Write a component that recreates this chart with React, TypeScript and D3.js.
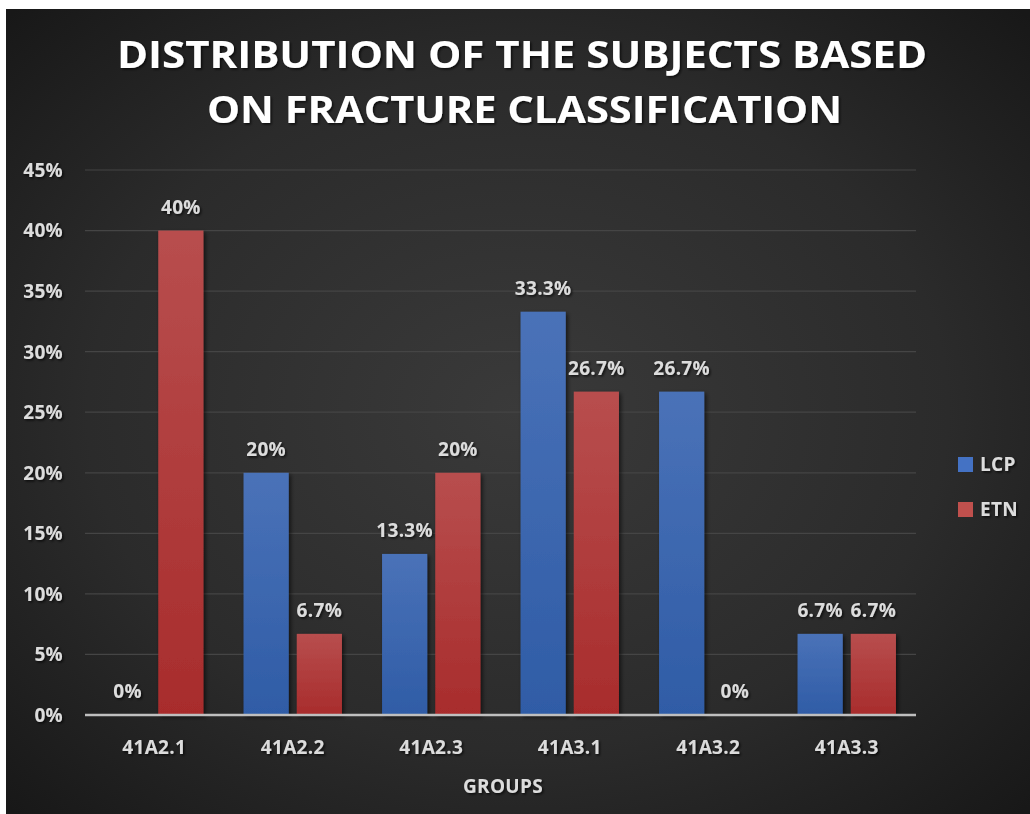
import React from "react";
import * as d3 from "d3";

const categories = ["41A2.1", "41A2.2", "41A2.3", "41A3.1", "41A3.2", "41A3.3"];
const seriesNames = ["LCP", "ETN"];
const lcpValues = [0, 0.2, 0.133, 0.333, 0.267, 0.067];
const etnValues = [0.4, 0.067, 0.2, 0.267, 0, 0.067];
const lcpLabels = ["0%", "20%", "13.3%", "33.3%", "26.7%", "6.7%"];
const etnLabels = ["40%", "6.7%", "20%", "26.7%", "0%", "6.7%"];
const yTicks = [0, 0.05, 0.1, 0.15, 0.2, 0.25, 0.3, 0.35, 0.4, 0.45];
const titleLines = ["DISTRIBUTION OF THE SUBJECTS BASED", "ON FRACTURE CLASSIFICATION"];
const xAxisTitle = "GROUPS";

const W = 1030;
const H = 814;
const FONT = "'Open Sans', sans-serif";

export default function App() {
  const x0 = d3.scaleBand<string>().domain(categories).range([85, 916]).padding(0);
  const x1 = d3
    .scaleBand<string>()
    .domain(seriesNames)
    .range([0, x0.bandwidth()])
    .paddingInner(0.151)
    .paddingOuter(0.377);
  const y = d3.scaleLinear().domain([0, 0.45]).range([715, 170]);
  const pct = d3.format(".0%");

  const series = [
    { name: "LCP", values: lcpValues, labels: lcpLabels, grad: "gBlue", color: "#4472c4" },
    { name: "ETN", values: etnValues, labels: etnLabels, grad: "gRed", color: "#c0504d" },
  ];

  const labelStyle = {
    fill: "#dcdcdc",
    fontFamily: FONT,
    fontWeight: 700,
    fontSize: 19,
    letterSpacing: 0.3,
    filter: "url(#txtShadow)",
  } as const;

  return (
    <svg width={W} height={H} style={{ position: "absolute", left: 0, top: 0 }}>
      <defs>
        <radialGradient id="bg" cx="50%" cy="50%" r="70%">
          <stop offset="0%" stopColor="#3a3a3a" />
          <stop offset="60%" stopColor="#2b2b2b" />
          <stop offset="100%" stopColor="#181818" />
        </radialGradient>
        <linearGradient id="gBlue" x1="0" y1="0" x2="0" y2="1">
          <stop offset="0%" stopColor="#4a72b8" />
          <stop offset="100%" stopColor="#2f5ca6" />
        </linearGradient>
        <linearGradient id="gRed" x1="0" y1="0" x2="0" y2="1">
          <stop offset="0%" stopColor="#b84e4e" />
          <stop offset="100%" stopColor="#a82c2c" />
        </linearGradient>
        <filter id="txtShadow" x="-10%" y="-20%" width="130%" height="150%">
          <feDropShadow dx="1.5" dy="1.5" stdDeviation="1" floodColor="#000" floodOpacity="0.7" />
        </filter>
        <filter id="barShadow" x="-20%" y="-10%" width="150%" height="130%">
          <feDropShadow dx="2" dy="2" stdDeviation="2" floodColor="#000" floodOpacity="0.6" />
        </filter>
      </defs>
      <rect x={0} y={0} width={W} height={H} fill="#ffffff" />
      <rect x={6} y={9} width={W - 6} height={H - 9} fill="url(#bg)" />

      {titleLines.map((t, i) => (
        <text
          key={t}
          x={i === 0 ? 117 : 207}
          y={i === 0 ? 68 : 123}
          textLength={i === 0 ? 810 : 635}
          lengthAdjust="spacingAndGlyphs"
          style={{
            fill: "#ffffff",
            fontFamily: FONT,
            fontWeight: 700,
            fontSize: 37,
            filter: "url(#txtShadow)",
          }}
        >
          {t}
        </text>
      ))}

      {yTicks.map((t) => (
        <g key={t}>
          {t > 0 && (
            <line x1={85} x2={916} y1={y(t)} y2={y(t)} stroke="#454545" strokeWidth={1.2} />
          )}
          <text x={63} y={y(t)} dy="0.36em" textAnchor="end" style={labelStyle}>
            {pct(t)}
          </text>
        </g>
      ))}

      {series.map((s) =>
        categories.map((c, i) => {
          const bx = (x0(c) ?? 0) + (x1(s.name) ?? 0);
          const bw = x1.bandwidth();
          const top = y(s.values[i]);
          return (
            <g key={s.name + c}>
              {s.values[i] > 0 && (
                <rect
                  x={bx}
                  y={top}
                  width={bw}
                  height={y(0) - top}
                  fill={`url(#${s.grad})`}
                  filter="url(#barShadow)"
                />
              )}
              <text x={bx + bw / 2} y={top - 17} textAnchor="middle" style={labelStyle}>
                {s.labels[i]}
              </text>
            </g>
          );
        })
      )}

      <line x1={85} x2={916} y1={y(0)} y2={y(0)} stroke="#bfbfbf" strokeWidth={2.5} />

      {categories.map((c) => (
        <text
          key={c}
          x={(x0(c) ?? 0) + x0.bandwidth() / 2}
          y={754}
          textAnchor="middle"
          style={labelStyle}
        >
          {c}
        </text>
      ))}

      <text x={503} y={793} textAnchor="middle" style={labelStyle}>
        {xAxisTitle}
      </text>

      {series.map((s, i) => (
        <g key={s.name}>
          <rect x={958} y={457 + i * 45} width={15} height={15} fill={s.color} />
          <text x={980} y={464.5 + i * 45} dy="0.36em" style={labelStyle}>
            {s.name}
          </text>
        </g>
      ))}
    </svg>
  );
}
